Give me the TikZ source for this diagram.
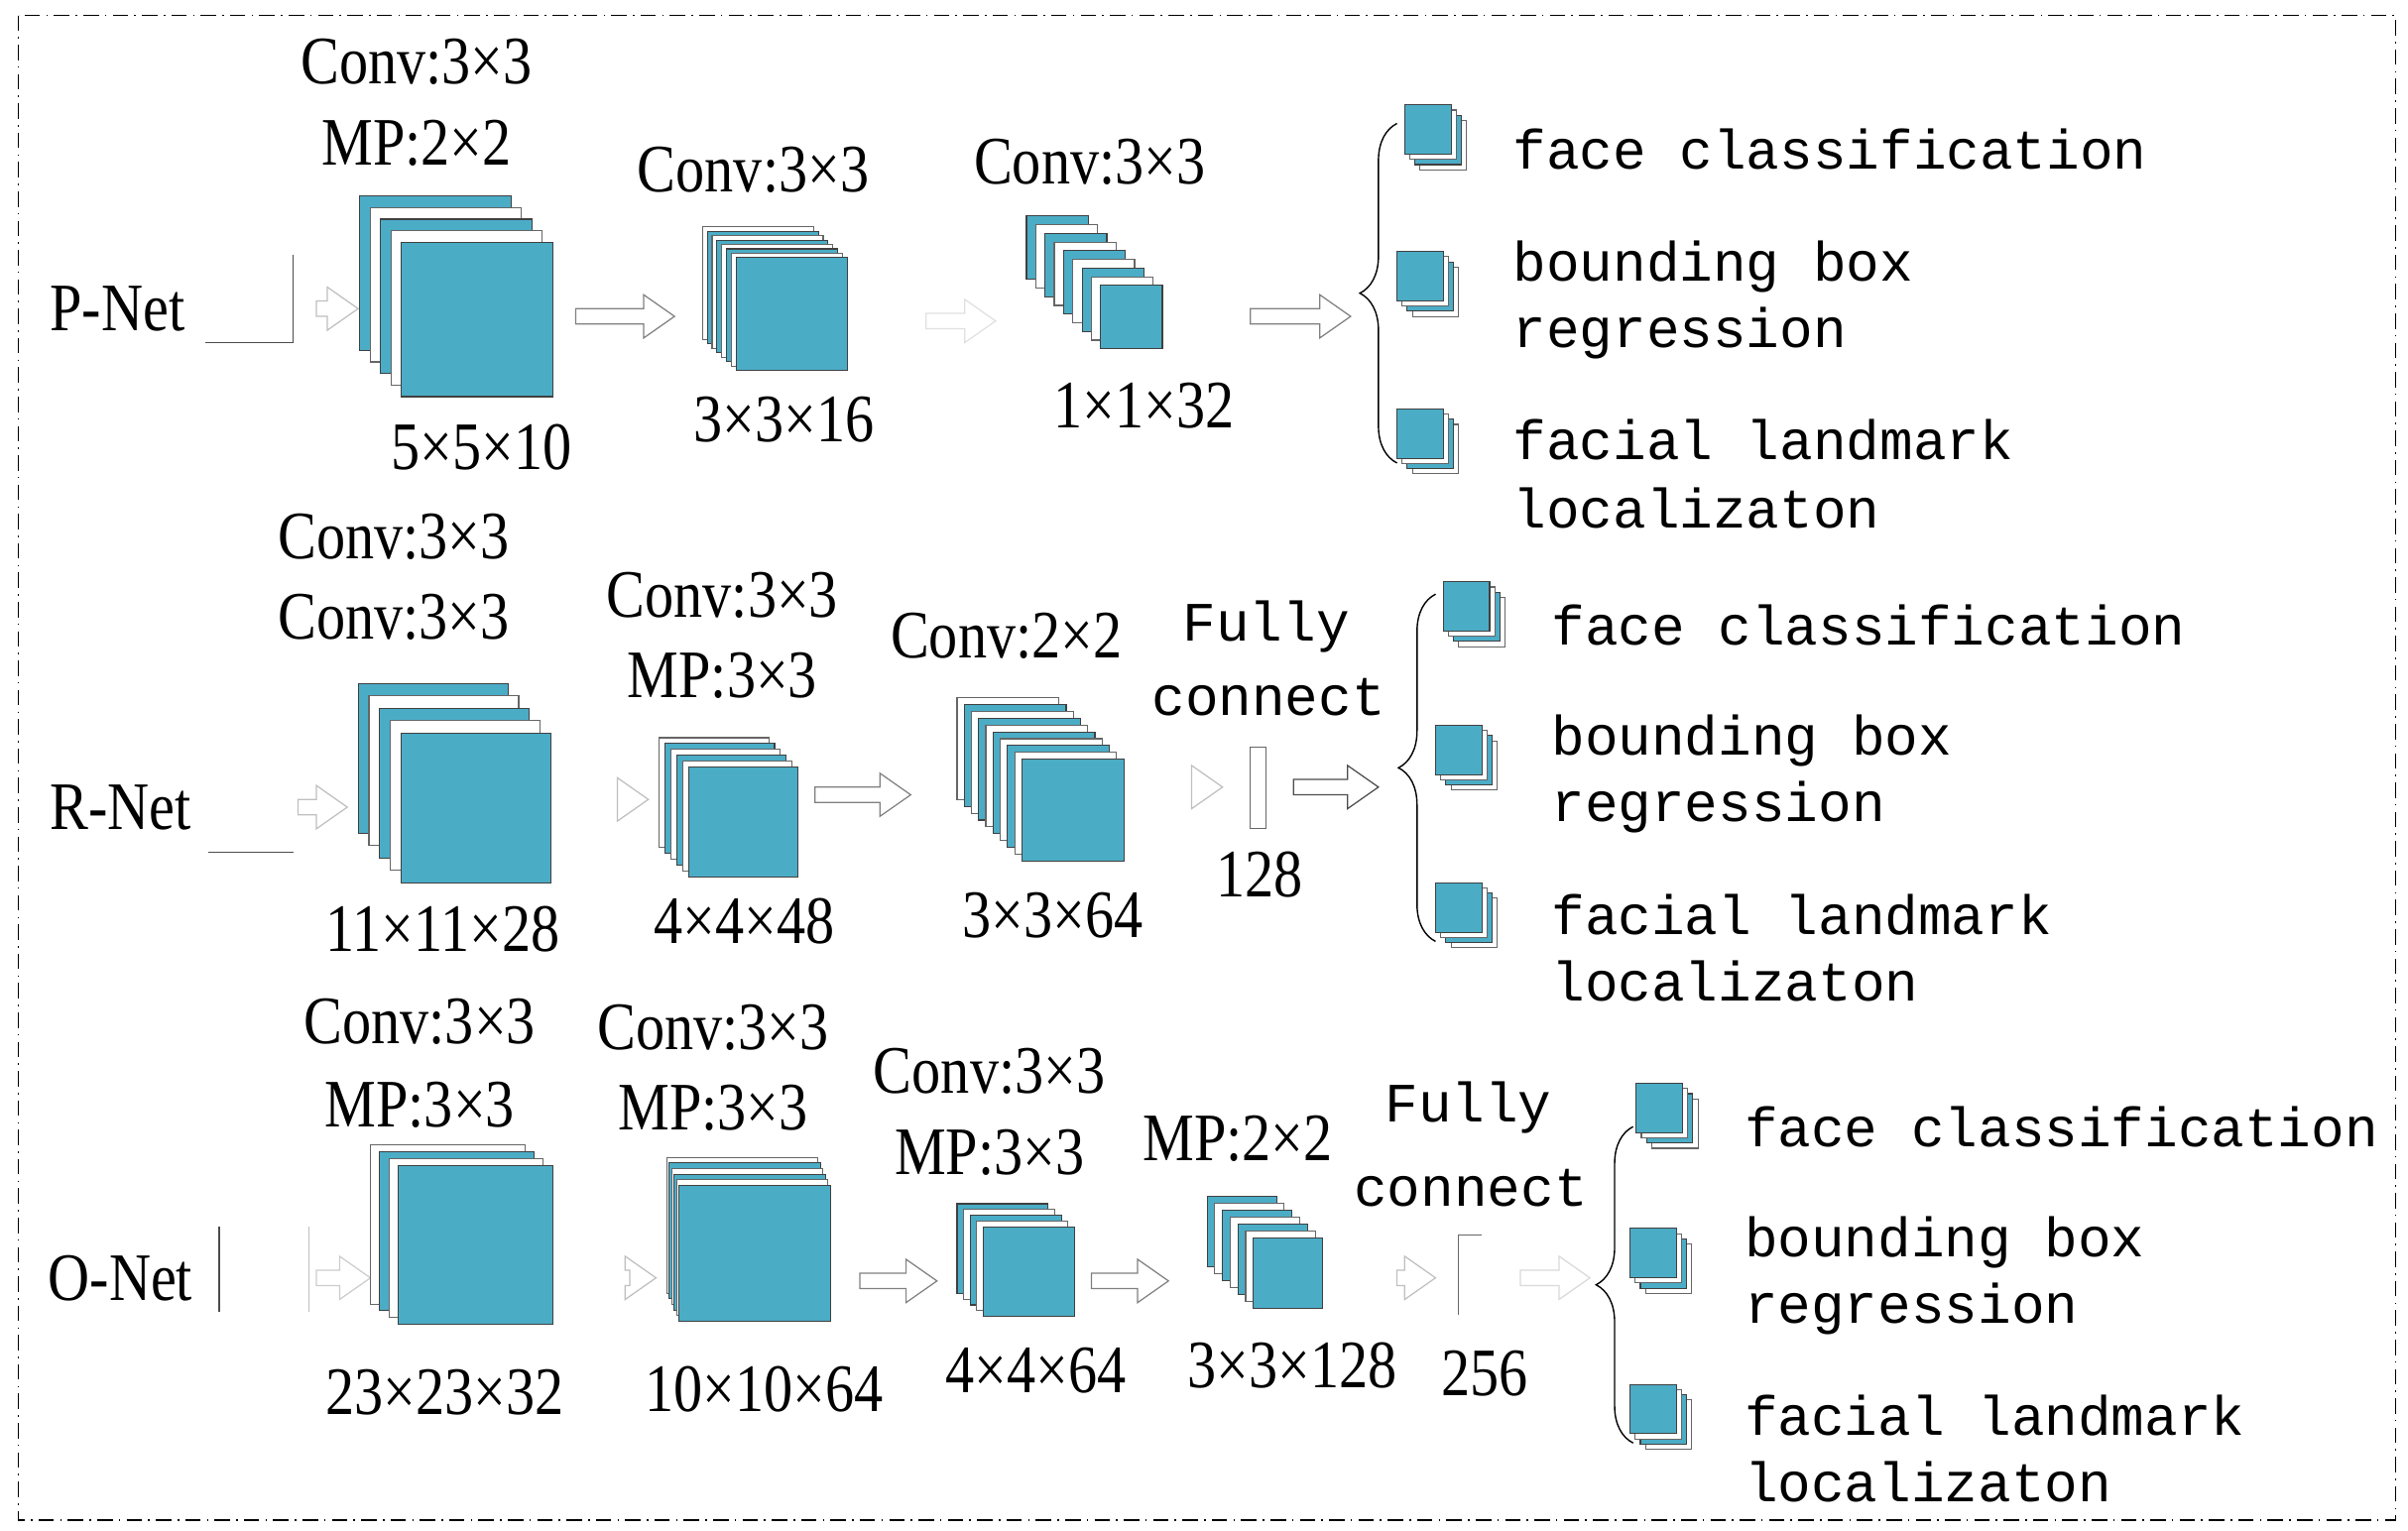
\documentclass[tikz,border=0pt]{standalone}
\usepackage{fontspec}
\setmainfont{Liberation Serif}
\newfontfamily\cond{Liberation Serif}[FakeStretch=0.85]
\newfontfamily\mono{Liberation Mono}
\usetikzlibrary{decorations.pathreplacing}
\definecolor{teal1}{HTML}{4BACC6}
\newcommand\fstack[7]{%
 \foreach \i in {0,...,\numexpr#7-1\relax}{%
  \pgfmathsetmacro\px{#1+(#3-#1)*\i/(#7-1)}%
  \pgfmathsetmacro\py{#2+(#4-#2)*\i/(#7-1)}%
  \pgfmathtruncatemacro\parity{mod(#7-1-\i,2)}%
  \ifnum\parity=0 \filldraw[fill=teal1,draw=black!75,line width=0.7pt] (\px,\py) rectangle ++(#5,#6);
  \else \filldraw[fill=white,draw=black!60,line width=0.7pt] (\px,\py) rectangle ++(#5,#6);\fi
 }}
\newcommand\mini[2]{\fstack{#1-10}{#2-10}{#1}{#2}{30}{32}{4}}
\newcommand\harr[4]{\draw[#4,line width=0.8pt] (#1,#3-5) -- (#2-20,#3-5) -- (#2-20,#3-14) -- (#2,#3) -- (#2-20,#3+14) -- (#2-20,#3+5) -- (#1,#3+5) -- cycle;}
\begin{document}
\begin{tikzpicture}[x=1pt,y=-1pt,
 lab/.style={font=\cond\fontsize{44}{48}\selectfont,inner sep=0},
 otxt/.style={font=\mono\fontsize{36}{40}\selectfont,anchor=west,inner sep=0},
 br/.style={decorate,decoration={brace,amplitude=24pt},line width=0.9pt}]
\useasboundingbox (0,0) rectangle (1560,992);
\draw[dash pattern=on 10pt off 4pt on 1pt off 4pt,line width=0.8pt] (12,10) rectangle (1552,985);
% ---------- P-Net
\node[lab] (pnet) at (76,200) {P-Net};
\draw[black!70,line width=0.8pt] (133,222) -- (190,222) -- (190,165);
\harr{205}{232}{200}{black!25}
\fstack{233}{127}{260}{157}{98}{100}{5}
\node[lab] (p1a) at (270,40) {Conv:3×3};
\node[lab] (p1b) at (270,93) {MP:2×2};
\node[lab] (p1c) at (312,290) {5×5×10};
\harr{373}{437}{205}{black!50}
\fstack{455}{147}{477}{167}{72}{73}{8}
\node[lab] (p2a) at (488,110) {Conv:3×3};
\node[lab] (p2b) at (508,272) {3×3×16};
\harr{600}{645}{208}{black!12}
\fstack{665}{140}{713}{185}{40}{41}{9}
\node[lab] (p3a) at (706,105) {Conv:3×3};
\node[lab] (p3b) at (741,263) {1×1×32};
\harr{810}{875}{205}{black!50}
\draw[br] (905,300) -- (905,80);
\mini{930}{88}\mini{925}{183}\mini{925}{285}
\node[otxt] (po1) at (980,97) {face classification};
\node[otxt] (po2) at (980,173) {bounding box};
\node[otxt] (po3) at (980,216) {regression};
\node[otxt] (po4) at (980,285) {facial landmark};
\node[otxt] (po5) at (980,329) {localizaton};
% ---------- R-Net
\node[lab] (rnet) at (78,523) {R-Net};
\draw[black!70,line width=0.8pt] (135,552) -- (190,552);
\harr{193}{225}{523}{black!25}
\fstack{232}{443}{260}{475}{97}{97}{5}
\node[lab] (r1a) at (255,348) {Conv:3×3};
\node[lab] (r1b) at (255,400) {Conv:3×3};
\node[lab] (r1c) at (287,602) {11×11×28};
\harr{400}{420}{518}{black!25}
\fstack{427}{478}{446}{497}{71}{71}{6}
\node[lab] (r2a) at (468,386) {Conv:3×3};
\node[lab] (r2b) at (468,438) {MP:3×3};
\node[lab] (r2c) at (482,597) {4×4×48};
\harr{528}{590}{515}{black!50}
\fstack{620}{452}{662}{492}{66}{66}{10}
\node[lab] (r3a) at (652,412) {Conv:2×2};
\node[lab] (r3b) at (682,593) {3×3×64};
\harr{772}{792}{510}{black!25}
\draw[black!60,line width=0.8pt] (810,484) rectangle (820,537);
\node[otxt] (rf1) at (766,406) {Fully};
\node[otxt] (rf2) at (746,452) {connect};
\node[lab] (rf3) at (816,567) {128};
\harr{838}{893}{510}{black!70}
\draw[br] (930,610) -- (930,385);
\mini{955}{397}\mini{950}{490}\mini{950}{592}
\node[otxt] (ro1) at (1005,405) {face classification};
\node[otxt] (ro2) at (1005,480) {bounding box};
\node[otxt] (ro3) at (1005,523) {regression};
\node[otxt] (ro4) at (1005,593) {facial landmark};
\node[otxt] (ro5) at (1005,636) {localizaton};
% ---------- O-Net
\node[lab] (onet) at (78,828) {O-Net};
\draw[black!70,line width=0.8pt] (142,795) -- (142,850);
\draw[black!25,line width=0.8pt] (200,795) -- (200,850);
\harr{205}{240}{828}{black!20}
\fstack{240}{742}{258}{755}{100}{103}{4}
\node[lab] (o1a) at (272,662) {Conv:3×3};
\node[lab] (o1b) at (272,716) {MP:3×3};
\node[lab] (o1c) at (288,902) {23×23×32};
\harr{408}{425}{828}{black!25}
\fstack{432}{750}{440}{768}{98}{88}{6}
\node[lab] (o2a) at (462,666) {Conv:3×3};
\node[lab] (o2b) at (462,718) {MP:3×3};
\node[lab] (o2c) at (495,900) {10×10×64};
\harr{557}{607}{830}{black!50}
\fstack{620}{780}{637}{795}{59}{58}{5}
\node[lab] (o3a) at (641,694) {Conv:3×3};
\node[lab] (o3b) at (641,747) {MP:3×3};
\node[lab] (o3c) at (671,888) {4×4×64};
\harr{707}{757}{830}{black!50}
\fstack{782}{775}{812}{802}{45}{46}{7}
\node[lab] (o4a) at (802,738) {MP:2×2};
\node[lab] (o4b) at (837,885) {3×3×128};
\harr{905}{930}{828}{black!25}
\draw[black!60,line width=0.8pt] (960,800) -- (945,800) -- (945,852);
\node[otxt] (of1) at (897,718) {Fully};
\node[otxt] (of2) at (877,770) {connect};
\node[lab] (of3) at (962,890) {256};
\harr{985}{1030}{828}{black!15}
\draw[br] (1058,935) -- (1058,730);
\mini{1080}{722}\mini{1076}{816}\mini{1076}{917}
\node[otxt] (oo1) at (1130,730) {face classification};
\node[otxt] (oo2) at (1130,805) {bounding box};
\node[otxt] (oo3) at (1130,848) {regression};
\node[otxt] (oo4) at (1130,917) {facial landmark};
\node[otxt] (oo5) at (1130,960) {localizaton};
\end{tikzpicture}
\end{document}
